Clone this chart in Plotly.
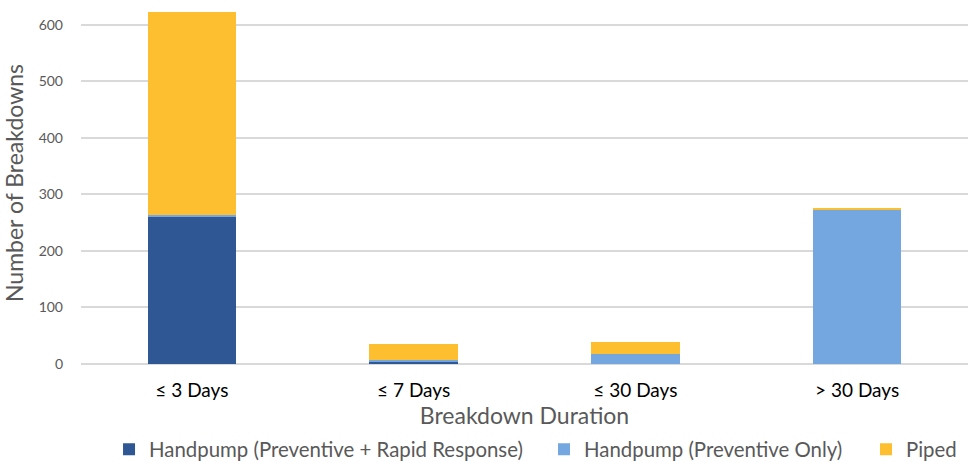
import plotly.graph_objects as go

categories = ["≤ 3 Days", "≤ 7 Days", "≤ 30 Days", "> 30 Days"]
handpump_rapid = [261, 4, 0, 0]
handpump_prev = [3, 3, 17, 273]
piped = [359, 29, 22, 3]

FONT = "Lato"
GRAY = "#595959"

fig = go.Figure()
fig.add_bar(x=categories, y=handpump_rapid, name="Handpump (Preventive + Rapid Response)",
            marker=dict(color="#2E5793", line=dict(width=0)), legend="legend", showlegend=True)
fig.add_bar(x=categories, y=handpump_prev, name="Handpump (Preventive Only)",
            marker=dict(color="#74A7DF", line=dict(width=0)), legend="legend2", showlegend=True)
fig.add_bar(x=categories, y=piped, name="Piped",
            marker=dict(color="#FDBE2F", line=dict(width=0)), legend="legend3", showlegend=True)

legend_common = dict(orientation="h", xanchor="left", yref="container", y=0.027,
                     yanchor="middle", font=dict(size=20.4, color=GRAY),
                     bgcolor="rgba(0,0,0,0)")

fig.update_layout(
    width=968, height=462,
    showlegend=True,
    barmode="stack", bargap=0.6,
    plot_bgcolor="white", paper_bgcolor="white",
    margin=dict(l=81, r=0, t=2, b=98),
    font=dict(family=FONT, color=GRAY),
    legend=dict(x=0.0316, **legend_common),
    legend2=dict(x=0.522, **legend_common),
    legend3=dict(x=0.885, **legend_common),
    xaxis=dict(title=dict(text="Breakdown Duration", font=dict(size=23, color=GRAY), standoff=2),
               tickfont=dict(size=19, color="#000000"), showline=False, ticks="",
               ticklabelstandoff=13, automargin=False),
    yaxis=dict(title=dict(text="Number of Breakdowns", font=dict(size=23, color=GRAY)),
               range=[0, 640], tickvals=[0, 100, 200, 300, 400, 500, 600],
               tickfont=dict(size=14, color=GRAY), gridcolor="#D9D9D9", gridwidth=1.5,
               zeroline=True, zerolinecolor="#D9D9D9", zerolinewidth=1.5,
               ticklabelstandoff=17, automargin=False),
)

fig.write_html("out.html", config={"displayModeBar": False},
               post_script="document.body.style.margin='0px';")
